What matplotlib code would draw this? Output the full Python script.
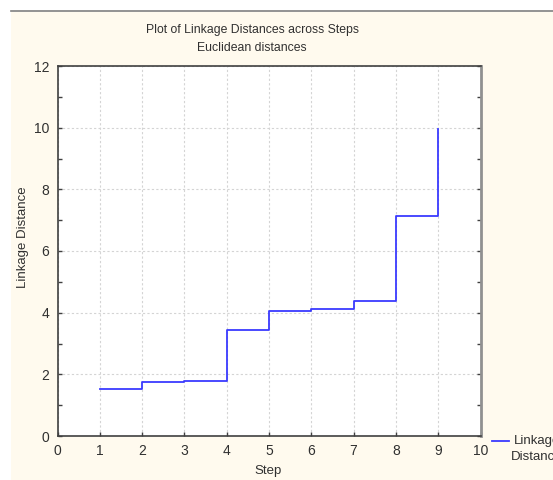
import matplotlib.pyplot as plt
from matplotlib.lines import Line2D
from matplotlib.patches import Rectangle

# linkage distance at each amalgamation step
steps = [1, 2, 3, 4, 5, 6, 7, 8, 9]
distances = [1.52, 1.74, 1.77, 3.43, 4.04, 4.11, 4.37, 7.13, 9.95]
x_ticks = list(range(0, 11))
y_ticks = [0, 2, 4, 6, 8, 10, 12]

plt.rcParams['font.family'] = ['Liberation Sans Narrow', 'Liberation Sans', 'DejaVu Sans']
plt.rcParams['font.size'] = 10

W, H = 553, 480
fig = plt.figure(figsize=(W / 100, H / 100), dpi=100)
fig.patch.set_facecolor('white')

# cream panel behind the graph, with a gray rule on top
fig.add_artist(Rectangle((11 / W, 0), 1 - 11 / W, 1 - 12 / H, transform=fig.transFigure,
                         facecolor='#fffaee', edgecolor='none', zorder=-10))
fig.add_artist(Line2D([11 / W, 1], [1 - 11 / H, 1 - 11 / H], transform=fig.transFigure,
                      color='#808080', lw=1.2))

ax = fig.add_axes([57.5 / W, 44 / H, 423 / W, 370 / H])
ax.set_facecolor('white')
ax.plot(steps, distances, drawstyle='steps-post', color='#3a3aff', lw=1.3, clip_on=False)

ax.set_xlim(0, 10)
ax.set_ylim(0, 12)
ax.set_xticks(x_ticks)
ax.set_yticks(y_ticks)
ax.set_yticks(range(1, 12, 2), minor=True)
ax.tick_params(which='both', direction='in', length=3, width=1, color='#404040',
               right=True, labelsize=10, labelcolor='#303030', pad=6)
ax.tick_params(axis='y', which='minor', right=True)
ax.grid(True, color='#d4d4d4', linestyle=(0, (2, 2)), lw=0.8)

for side in ['left', 'bottom', 'top']:
    ax.spines[side].set_color('#404040')
    ax.spines[side].set_linewidth(1.2)
ax.spines['right'].set_color('#909090')
ax.spines['right'].set_linewidth(2)

# titles and axis labels
fig.text(252 / W, 1 - 30 / H, 'Plot of Linkage Distances across Steps',
         ha='center', va='center', fontsize=8.8, color='#303030')
fig.text(252 / W, 1 - 48 / H, 'Euclidean distances',
         ha='center', va='center', fontsize=8.8, color='#303030')
fig.text(268 / W, 1 - 471 / H, 'Step', ha='center', va='center', fontsize=9.5, color='#303030')
fig.text(23 / W, 1 - 237 / H, 'Linkage Distance', ha='center', va='center',
         rotation=90, fontsize=9.5, color='#303030')

# legend sitting outside the plot, cut at the figure edge
fig.add_artist(Line2D([492 / W, 509 / W], [1 - 441 / H, 1 - 441 / H],
                      transform=fig.transFigure, color='#3a3aff', lw=1.3))
fig.text(537 / W, 1 - 449 / H, 'Linkage\nDistance', ha='center', va='center',
         multialignment='center', fontsize=9.5, color='#303030', linespacing=1.35)

fig.savefig('out.png', dpi=100)
